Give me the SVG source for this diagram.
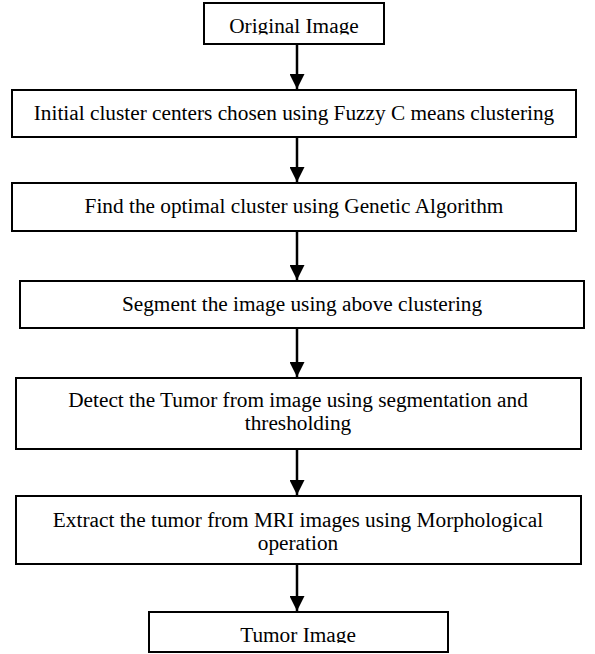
<svg xmlns="http://www.w3.org/2000/svg" width="595" height="654" viewBox="0 0 595 654">
<style>
.box{fill:#fff;stroke:#000;stroke-width:2}
.t{font-family:"Liberation Serif","Times New Roman",serif;font-size:21.3px;fill:#000;text-anchor:middle}
.c{stroke:#000;stroke-width:2.5;fill:none}
</style>
<defs>
<marker id="ah" markerWidth="6" markerHeight="6" refX="6" refY="3" orient="auto" markerUnits="strokeWidth"><path d="M0,0 L6,3 L0,6 z" fill="#000"/></marker>
<clipPath id="c1"><rect x="204" y="3" width="180" height="31.5"/></clipPath>
<clipPath id="c7"><rect x="149" y="612" width="299" height="31"/></clipPath>
</defs>
<rect width="595" height="654" fill="#fff"/>
<g id="n1"><rect class="box" x="204" y="3" width="180" height="41"/><text class="t" x="294" y="33" clip-path="url(#c1)">Original Image</text></g>
<g id="n2"><rect class="box" x="12" y="90" width="564" height="47"/><text class="t" x="294" y="120">Initial cluster centers chosen using Fuzzy C means clustering</text></g>
<g id="n3"><rect class="box" x="12" y="183" width="564" height="48"/><text class="t" x="294" y="213">Find the optimal cluster using Genetic Algorithm</text></g>
<g id="n4"><rect class="box" x="20" y="281" width="564" height="47"/><text class="t" x="302" y="311">Segment the image using above clustering</text></g>
<g id="n5"><rect class="box" x="16" y="378" width="565" height="71"/><text class="t" x="298" y="407">Detect the Tumor from image using segmentation and</text><text class="t" x="298" y="430">thresholding</text></g>
<g id="n6"><rect class="box" x="16" y="496" width="565" height="68"/><text class="t" x="298" y="527">Extract the tumor from MRI images using Morphological</text><text class="t" x="298" y="550">operation</text></g>
<g id="n7"><rect class="box" x="149" y="612" width="299" height="40"/><text class="t" x="298" y="642" clip-path="url(#c7)">Tumor Image</text></g>
<g id="edges">
<line class="c" x1="297" y1="44" x2="297" y2="89" marker-end="url(#ah)"/>
<line class="c" x1="297" y1="137" x2="297" y2="182" marker-end="url(#ah)"/>
<line class="c" x1="297" y1="231" x2="297" y2="280" marker-end="url(#ah)"/>
<line class="c" x1="297" y1="328" x2="297" y2="377" marker-end="url(#ah)"/>
<line class="c" x1="297" y1="449" x2="297" y2="495" marker-end="url(#ah)"/>
<line class="c" x1="297" y1="564" x2="297" y2="611" marker-end="url(#ah)"/>
</g>
</svg>
